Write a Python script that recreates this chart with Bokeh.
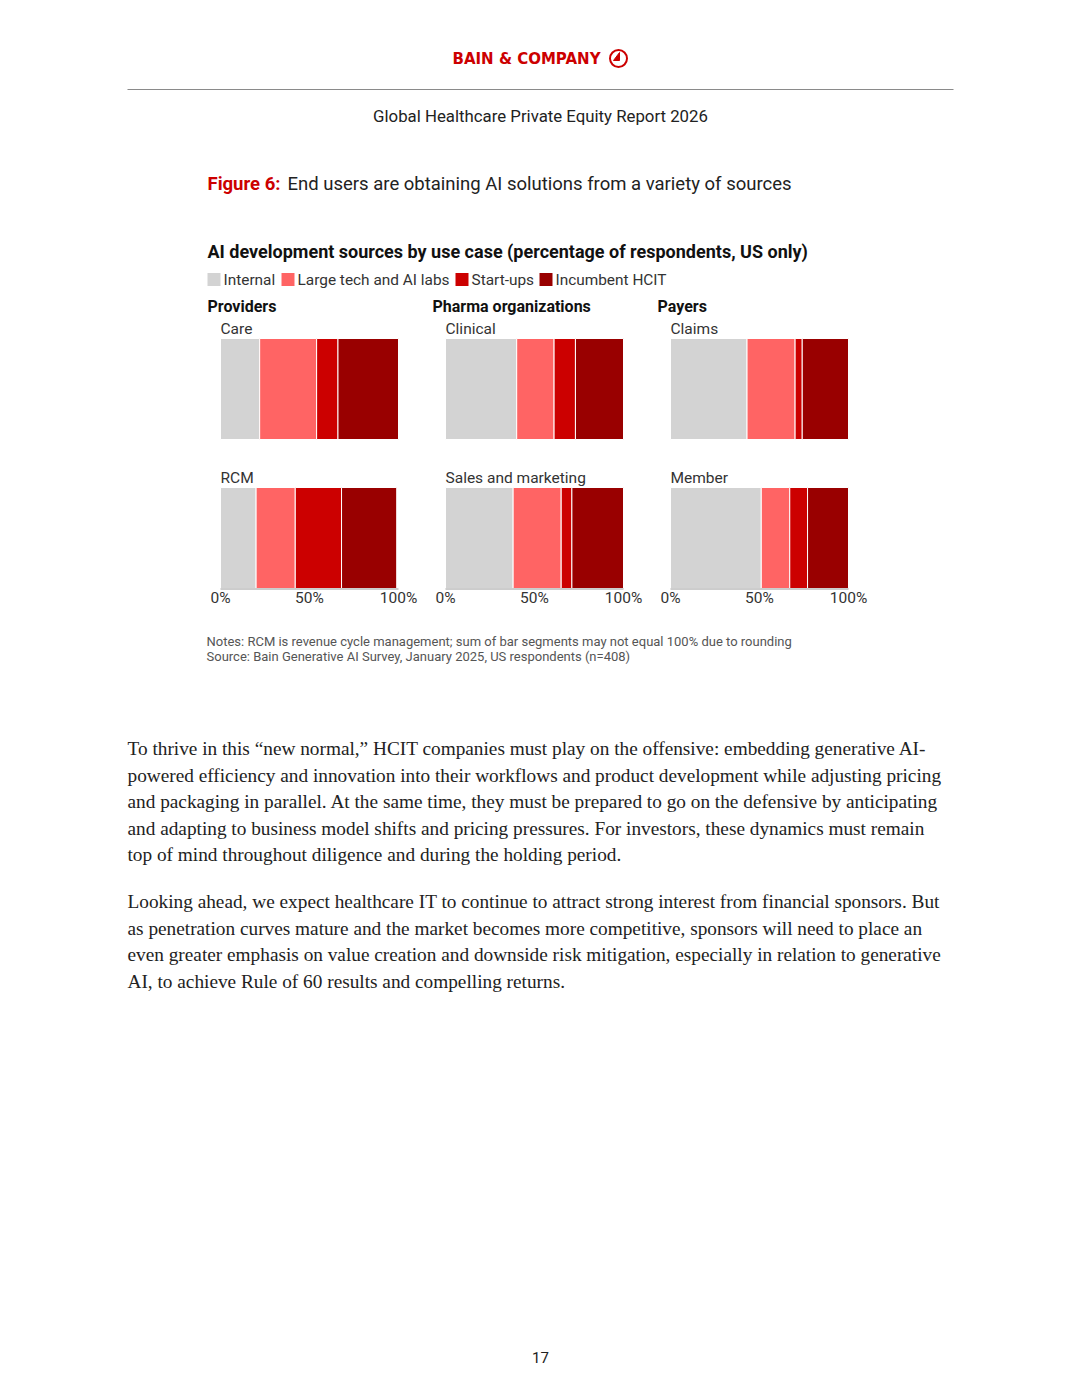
from bokeh.plotting import figure
from bokeh.models import Range1d
from bokeh.core.properties import value
from bokeh.embed import file_html
from bokeh.resources import INLINE

# ---------------- data ----------------
groups = ["Providers", "Pharma organizations", "Payers"]
use_cases = ["Care", "RCM", "Clinical", "Sales and marketing", "Claims", "Member"]
use_case_group = [0, 0, 1, 1, 2, 2]
use_case_row = [0, 1, 0, 1, 0, 1]
sources = ["Internal", "Large tech and AI labs", "Start-ups", "Incumbent HCIT"]
internal = [22, 20, 40, 38, 43, 51]
large_tech = [32, 22, 21, 27, 27, 16]
start_ups = [12, 26, 12, 6, 4, 10]
incumbent = [34, 31, 27, 29, 26, 23]
ticks = [0, 50, 100]
tick_labels = ["0%", "50%", "100%"]

colors = ["#d3d3d3", "#ff6464", "#cc0000", "#990000"]

title_red = "Figure 6:"
title_rest = "End users are obtaining AI solutions from a variety of sources"
chart_title = "AI development sources by use case (percentage of respondents, US only)"
notes = ["Notes: RCM is revenue cycle management; sum of bar segments may not equal 100% due to rounding",
         "Source: Bain Generative AI Survey, January 2025, US respondents (n=408)"]
para1 = ["To thrive in this \u201cnew normal,\u201d HCIT companies must play on the offensive: embedding generative AI-",
         "powered efficiency and innovation into their workflows and product development while adjusting pricing",
         "and packaging in parallel. At the same time, they must be prepared to go on the defensive by anticipating",
         "and adapting to business model shifts and pricing pressures. For investors, these dynamics must remain",
         "top of mind throughout diligence and during the holding period."]
para2 = ["Looking ahead, we expect healthcare IT to continue to attract strong interest from financial sponsors. But",
         "as penetration curves mature and the market becomes more competitive, sponsors will need to place an",
         "even greater emphasis on value creation and downside risk mitigation, especially in relation to generative",
         "AI, to achieve Rule of 60 results and compelling returns."]

# ---------------- layout constants (page pixels) ----------------
W, H = 1064, 1382
panel_x0 = [220.0, 445.0, 670.0]
panel_scale = 1.78
row_top = [338, 487]
row_bot = [439, 588]

p = figure(width=W, height=H, x_range=Range1d(0, W), y_range=Range1d(H, 0),
           output_backend="svg", toolbar_location=None, min_border=0,
           x_axis_location=None, y_axis_location=None, outline_line_color=None)
p.grid.visible = False
p.background_fill_color = "white"
p.border_fill_color = "white"

for i, x0 in enumerate(panel_x0):
    start = -x0 / panel_scale
    p.extra_x_ranges["g%d" % i] = Range1d(start, start + W / panel_scale)


def txt(x, y, s, size, font="Roboto", color="#222222", style="normal", align="left", xr="default"):
    kw = {}
    if xr != "default":
        kw["x_range_name"] = xr
    p.text(x=[x], y=[y], text=[s], text_font=value(font), text_font_size=value(size),
           text_color=color, text_font_style=style, text_align=align, text_baseline="middle", **kw)


# header
txt(526, 58, "BAIN & COMPANY", "15px", font="DejaVu Sans", color="#cc0000", style="bold", align="center")
p.scatter(x=[618], y=[58], size=17, marker="circle", fill_color=None, line_color="#cc0000", line_width=2)
p.patch(x=[619, 619, 613], y=[52, 60, 60], fill_color="#cc0000", line_color="#cc0000")
p.segment(x0=[127], y0=[89], x1=[953], y1=[89], line_color="#8a8a8a", line_width=1.2)
txt(540, 115, "Global Healthcare Private Equity Report 2026", "16.8px", color="#222222", align="center")

# figure title
txt(207, 183, title_red, "18.5px", color="#cc0000", style="bold")
txt(287, 183, title_rest, "18.5px", color="#222222")

# chart title
txt(207, 251, chart_title, "18px", font="Roboto", color="#111111", style="bold")

# legend
leg_x = [207, 281, 455, 539]
for i, s in enumerate(sources):
    p.quad(left=[leg_x[i]], right=[leg_x[i] + 13], top=[272.5], bottom=[285.5],
           fill_color=colors[i], line_color=None)
    txt(leg_x[i] + 16, 279, s, "15.4px", color="#333333")

# group headers
for i, g in enumerate(groups):
    txt(panel_x0[i] - 13, 306, g, "16px", color="#111111", style="bold")

# bars
series = [internal, large_tech, start_ups, incumbent]
for k, uc in enumerate(use_cases):
    g = use_case_group[k]
    r = use_case_row[k]
    xr = "g%d" % g
    left = 0
    lefts, rights = [], []
    for sv in series:
        lefts.append(left)
        left += sv[k]
        rights.append(left)
    p.quad(left=lefts, right=rights, top=[row_top[r]] * 4, bottom=[row_bot[r]] * 4,
           fill_color=colors, line_color="white", line_width=1, x_range_name=xr)
    txt(0, row_top[r] - 9.5, uc, "15.5px", color="#333333", xr=xr)
    if r == 1:
        p.segment(x0=[0], y0=[row_bot[r] + 0.5], x1=[100], y1=[row_bot[r] + 0.5],
                  line_color="#9a9a9a", line_width=1, x_range_name=xr)
        p.text(x=ticks, y=[597] * len(ticks), text=tick_labels, text_font=value("Roboto"),
               text_font_size=value("15.5px"), text_color="#333333", text_align="center",
               text_baseline="middle", x_range_name=xr)

# notes
for j, n in enumerate(notes):
    txt(206, 641 + 15 * j, n, "13px", color="#555555")

# paragraphs
for j, line in enumerate(para1):
    txt(127, 748 + 26.5 * j, line, "19.3px", font="Liberation Serif", color="#222222")
for j, line in enumerate(para2):
    txt(127, 901 + 26.5 * j, line, "19.3px", font="Liberation Serif", color="#222222")

# page number
txt(540, 1357, "17", "15px", color="#222222", align="center")

open("out.html", "w").write(file_html(p, INLINE))
